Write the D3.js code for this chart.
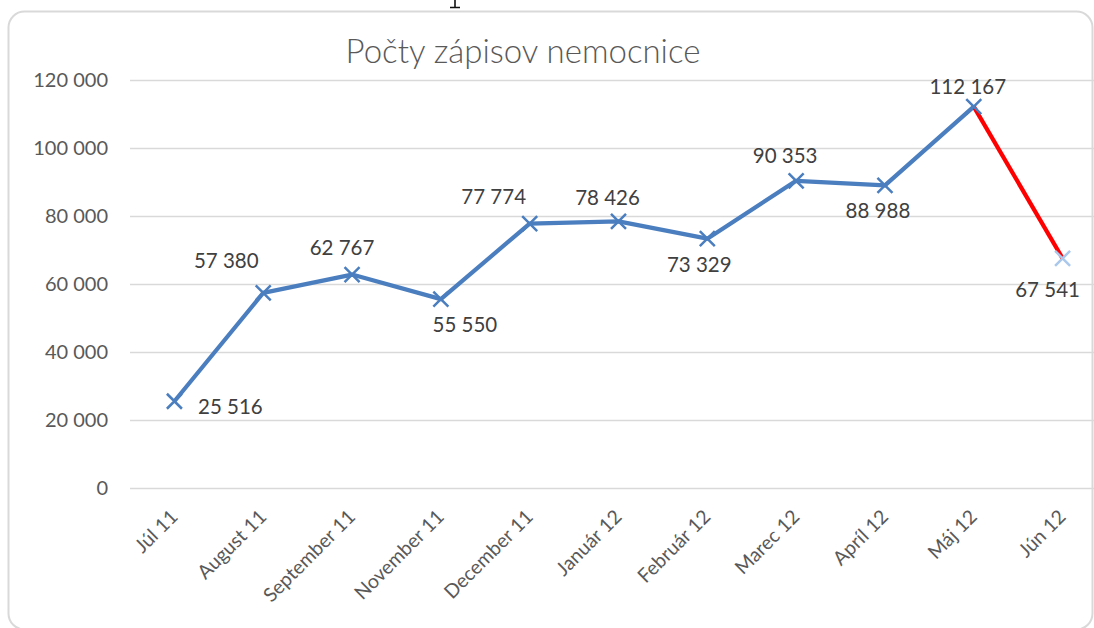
<!DOCTYPE html>
<html>
<head>
<meta charset="utf-8">
<script src="https://cdn.jsdelivr.net/npm/d3@7"></script>
<style>
  html, body { margin: 0; padding: 0; background: #fff; }
  svg { display: block; }
</style>
</head>
<body>
<div id="chart"></div>
<script>
const months = ["Júl 11", "August 11", "September 11", "November 11", "December 11",
  "Január 12", "Február 12", "Marec 12", "Apríl 12", "Máj 12", "Jún 12"];
const visits = [25516, 57380, 62767, 55550, 77774, 78426, 73329, 90353, 88988, 112167, 67541];
const yTicks = [0, 20000, 40000, 60000, 80000, 100000, 120000];
const title = "Počty zápisov nemocnice";

// where each value label sits relative to its marker
const labelOffsets = [[56, 13], [-37, -25], [-10, -20], [24, 33], [-36, -20],
  [-11, -16], [-8, 33], [-11, -18], [-7, 33], [-6, -13], [-15, 39]];

const width = 1094;
const height = 628;
const margin = { top: 80, right: -13, bottom: 140, left: 130 };

const svg = d3.select("#chart")
  .append("svg")
  .attr("width", width)
  .attr("height", height);

// chart frame, partly cut off like the screenshot
svg.append("rect")
  .attr("x", 8.5).attr("y", 11.5)
  .attr("width", 1084).attr("height", 618)
  .attr("rx", 16)
  .attr("fill", "#fff")
  .attr("stroke", "#d9d9d9")
  .attr("stroke-width", 2);

// sliver of a glyph from the page above the chart
svg.append("path")
  .attr("d", "M455,0V7M450,7.5H460")
  .attr("stroke", "#111")
  .attr("stroke-width", 1.6);

const x = d3.scalePoint()
  .domain(months)
  .range([margin.left, width - margin.right])
  .padding(0.5);

const y = d3.scaleLinear()
  .domain([0, 120000])
  .range([height - margin.bottom, margin.top]);

const fmt = d3.formatLocale({ decimal: ",", thousands: " ", grouping: [3], currency: ["", " €"] }).format(",d");

svg.append("text")
  .attr("x", 523).attr("y", 63)
  .attr("text-anchor", "middle")
  .attr("font-family", "Lato, sans-serif")
  .attr("font-weight", 300)
  .attr("font-size", 33)
  .attr("fill", "#595959")
  .text(title);

const yAxis = svg.append("g")
  .attr("transform", `translate(${margin.left},0)`)
  .call(d3.axisLeft(y).tickValues(yTicks).tickSize(-(width - margin.right - margin.left)).tickPadding(22).tickFormat(fmt));
yAxis.select(".domain").remove();
yAxis.selectAll(".tick line").attr("stroke", "#d9d9d9").attr("stroke-width", 1.5);
yAxis.selectAll(".tick text")
  .attr("font-family", "Lato, sans-serif")
  .attr("font-size", 20)
  .attr("fill", "#595959");

const xAxis = svg.append("g")
  .attr("transform", `translate(0,${height - margin.bottom})`)
  .call(d3.axisBottom(x).tickSize(0).tickPadding(0));
xAxis.select(".domain").remove();
xAxis.selectAll(".tick text")
  .attr("font-family", "Lato, sans-serif")
  .attr("font-size", 19.5)
  .attr("fill", "#595959")
  .attr("text-anchor", "end")
  .attr("dy", 0)
  .attr("transform", "translate(4,30) rotate(-45)");

const pts = months.map((m, i) => [x(m), y(visits[i])]);
const line = d3.line();

svg.append("path")
  .attr("d", line(pts.slice(0, pts.length - 1)))
  .attr("fill", "none")
  .attr("stroke", "#4a7ebf")
  .attr("stroke-width", 4.2)
  .attr("stroke-linejoin", "round");

svg.append("path")
  .attr("d", line(pts.slice(pts.length - 2)))
  .attr("fill", "none")
  .attr("stroke", "#ff0000")
  .attr("stroke-width", 4.2);

const s = 7.5;
svg.append("g")
  .selectAll("path")
  .data(pts)
  .join("path")
  .attr("d", d => `M${d[0] - s},${d[1] - s}L${d[0] + s},${d[1] + s}M${d[0] - s},${d[1] + s}L${d[0] + s},${d[1] - s}`)
  .attr("stroke", (d, i) => i === pts.length - 1 ? "#a9c8ec" : "#4a7ebf")
  .attr("stroke-width", 2.5);

svg.append("g")
  .selectAll("text")
  .data(visits)
  .join("text")
  .attr("x", (d, i) => x(months[i]) + labelOffsets[i][0])
  .attr("y", (d, i) => y(d) + labelOffsets[i][1])
  .attr("text-anchor", "middle")
  .attr("font-family", "Lato, sans-serif")
  .attr("font-size", 20.5)
  .attr("fill", "#404040")
  .text(d => fmt(d));
</script>
</body>
</html>
